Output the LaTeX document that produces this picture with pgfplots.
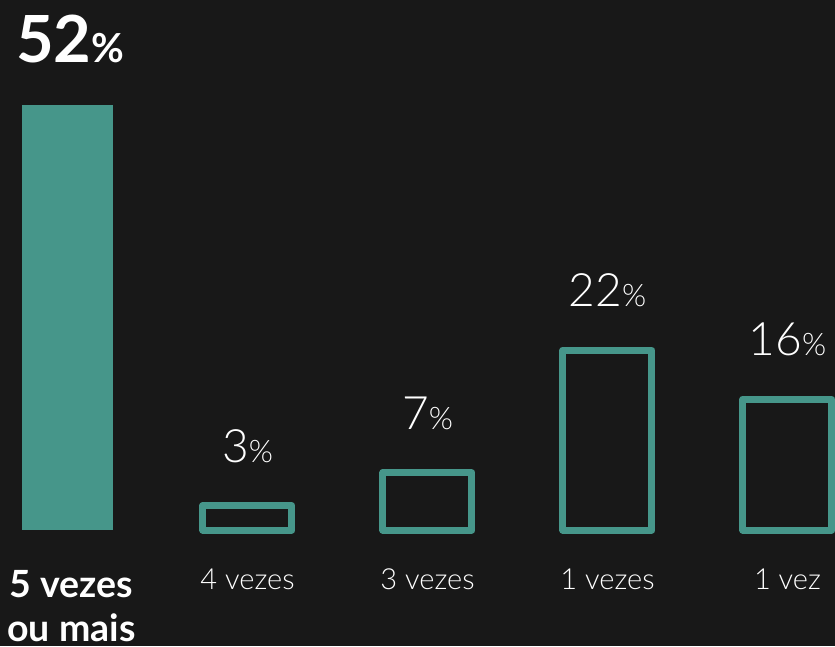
\documentclass[border=0pt]{standalone}
\usepackage{fontspec}
\setmainfont{Lato}
\newfontfamily\lightf{Lato Light}
\usepackage{pgfplots}
\pgfplotsset{compat=1.18}
\definecolor{bg}{HTML}{181818}
\definecolor{barteal}{HTML}{46968A}

\newcommand{\boldval}[2]{\bfseries\fontsize{65}{65}\selectfont #1\fontsize{40}{40}\selectfont #2}
\newcommand{\thinval}[2]{\lightf\fontsize{46}{46}\selectfont #1\fontsize{31}{31}\selectfont #2}

\begin{document}
\begin{tikzpicture}
\useasboundingbox (0,0) rectangle (835pt,646pt);
\fill[bg] (0,0) rectangle (835pt,646pt);
\clip (0,0) rectangle (835pt,646pt);
\begin{axis}[
    at={(0,0)}, anchor=south west,
    scale only axis,
    width=835pt, height=646pt,
    xmin=-0.375, xmax=4.264,
    ymin=-14.19, ymax=64.85,
    hide axis,
    clip=false,
    ybar,
]
% share of respondents, per number of times
\addplot[fill=barteal, draw=none, bar width=91pt, bar shift=0pt]
    coordinates {(0,52)};
\addplot[draw=barteal, fill=none, line width=7pt, line join=round, bar width=89pt, bar shift=0pt]
    coordinates {(1,3) (2,7) (3,22) (4,16)};

% value labels
\node[anchor=base, text=white] at (axis cs:0.015,57.26) {\boldval{52}{\%}};
\node[anchor=base, text=white] at (axis cs:1,8.3) {\thinval{3}{\%}};
\node[anchor=base, text=white] at (axis cs:2,12.3) {\thinval{7}{\%}};
\node[anchor=base, text=white] at (axis cs:3,27.35) {\thinval{22}{\%}};
\node[anchor=base, text=white] at (axis cs:4,21.3) {\thinval{16}{\%}};

% category labels
\node[anchor=base, text=white] at (axis cs:0.022,-8.2) {\bfseries\fontsize{37.5}{37.5}\selectfont 5 vezes};
\node[anchor=base, text=white] at (axis cs:0.022,-13.7) {\bfseries\fontsize{37.5}{37.5}\selectfont ou mais};
\node[anchor=base, text=white] at (axis cs:1,-7.22) {\lightf\fontsize{29}{29}\selectfont 4 vezes};
\node[anchor=base, text=white] at (axis cs:2,-7.22) {\lightf\fontsize{29}{29}\selectfont 3 vezes};
\node[anchor=base, text=white] at (axis cs:3,-7.22) {\lightf\fontsize{29}{29}\selectfont 1 vezes};
\node[anchor=base, text=white] at (axis cs:4,-7.22) {\lightf\fontsize{29}{29}\selectfont 1 vez};
\end{axis}
\end{tikzpicture}
\end{document}
